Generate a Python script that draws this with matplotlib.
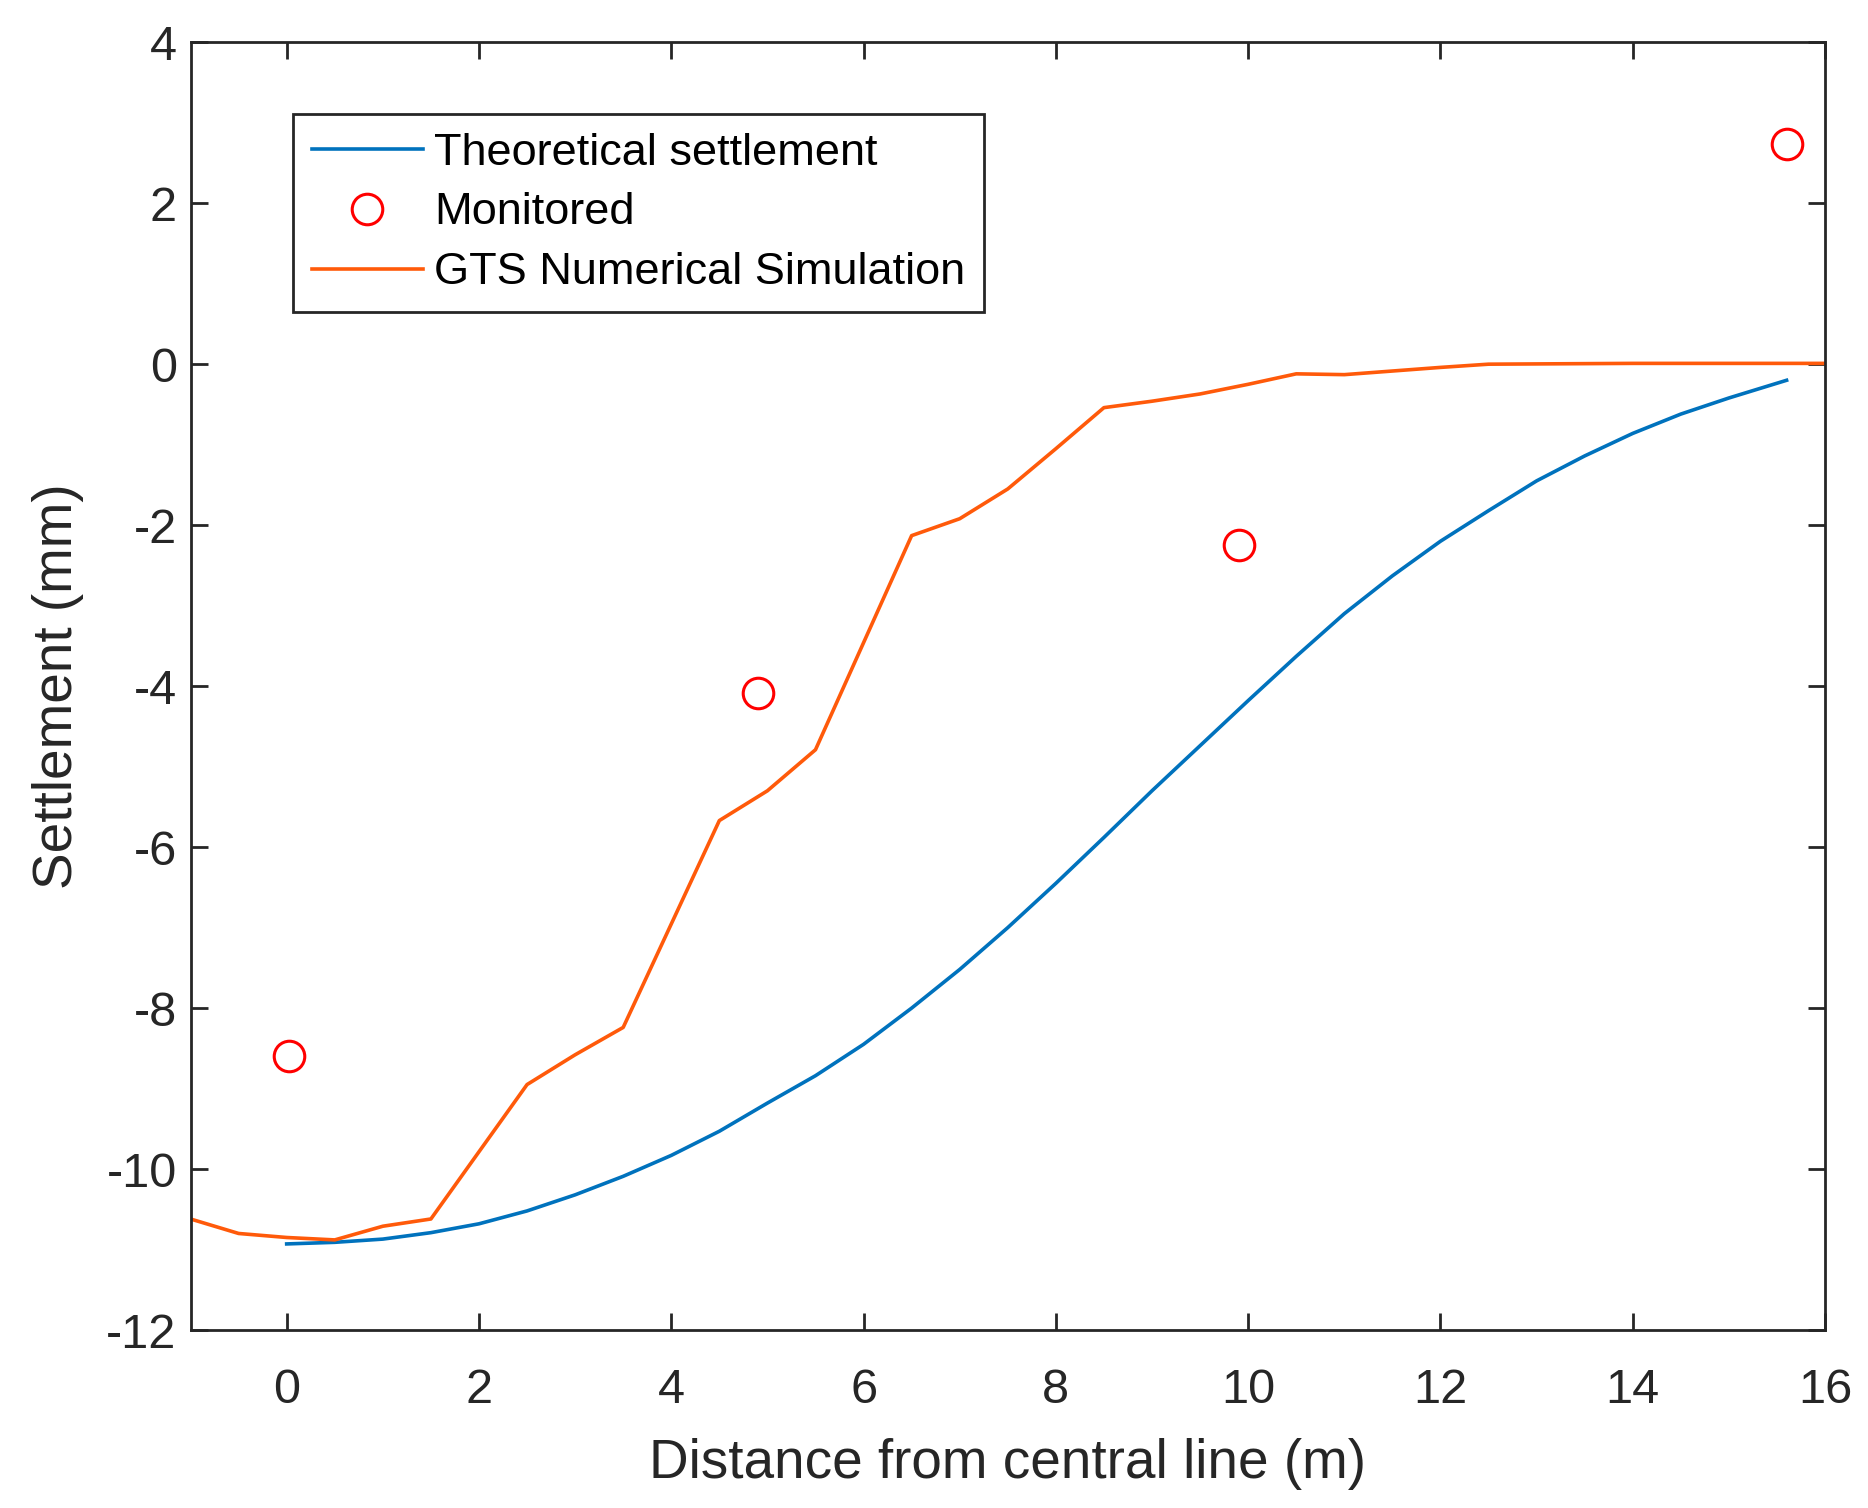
import numpy as np
import matplotlib
matplotlib.use("Agg")
import matplotlib.pyplot as plt

plt.rcParams['font.family'] = ['Liberation Sans', 'DejaVu Sans']

# Theoretical settlement curve
theo_x = [0, 0.5, 1, 1.5, 2, 2.5, 3, 3.5, 4, 4.5, 5, 5.5, 6, 6.5, 7, 7.5, 8,
          8.5, 9, 9.5, 10, 10.5, 11, 11.5, 12, 12.5, 13, 13.5, 14, 14.5, 15,
          15.3, 15.6]
theo_y = [-10.93, -10.91, -10.87, -10.79, -10.68, -10.52, -10.32, -10.09,
          -9.83, -9.53, -9.18, -8.84, -8.45, -8.0, -7.52, -7.0, -6.45, -5.88,
          -5.3, -4.74, -4.18, -3.63, -3.1, -2.63, -2.2, -1.82, -1.45, -1.14,
          -0.86, -0.62, -0.42, -0.31, -0.2]

# monitored points
mon_x = [0.02, 4.9, 9.9, 15.6]
mon_y = [-8.6, -4.08, -2.25, 2.73]

# GTS numerical simulation
gts_x = [-1, -0.5, 0, 0.5, 1, 1.5, 2.5, 3, 3.5, 4.5, 5, 5.5, 6.5, 7, 7.5, 8,
         8.5, 9, 9.5, 10, 10.5, 11, 12, 12.5, 14, 16]
gts_y = [-10.62, -10.8, -10.85, -10.88, -10.71, -10.62, -8.95, -8.58, -8.24,
         -5.67, -5.3, -4.79, -2.13, -1.92, -1.55, -1.05, -0.54, -0.46, -0.37,
         -0.25, -0.12, -0.13, -0.04, 0.0, 0.01, 0.01]

fig = plt.figure(figsize=(18.68, 15.08), dpi=100)
ax = fig.add_axes([0.102, 0.118, 0.875, 0.854])

ax.plot(theo_x, theo_y, color="#0072BD", lw=2.6, label="Theoretical settlement")
ax.plot(mon_x, mon_y, "o", color="red", mfc="none", mew=2.2, ms=22, label="Monitored")
ax.plot(gts_x, gts_y, color="#FF5A0A", lw=2.6, label="GTS Numerical Simulation")

ax.set_xlim(-1, 16)
ax.set_ylim(-12, 4)
ax.set_xticks(np.arange(0, 17, 2))
ax.set_yticks(np.arange(-12, 5, 2))
ax.set_yticklabels([str(v) for v in range(-12, 5, 2)])

gray = "#262626"
for s in ax.spines.values():
    s.set_linewidth(2.0); s.set_color(gray)
ax.tick_params(direction="in", top=True, right=True, length=12, width=2.0,
               colors=gray, labelsize=35)
ax.tick_params(axis="x", pad=27)
ax.tick_params(axis="y", pad=10)
ax.set_xlabel("Distance from central line (m)", fontsize=39.5, color=gray, labelpad=18)
ax.set_ylabel("Settlement (mm)", fontsize=39.5, color=gray, labelpad=16)

leg = ax.legend(loc="upper left", bbox_to_anchor=(0.0627, 0.9446), borderaxespad=0,
                fontsize=32.5, fancybox=False, framealpha=1, edgecolor=gray,
                handlelength=2.45, handletextpad=0.26, labelspacing=0.42,
                borderpad=0.42)
leg.get_frame().set_linewidth(2.0)

fig.savefig("out.png", dpi=100)
